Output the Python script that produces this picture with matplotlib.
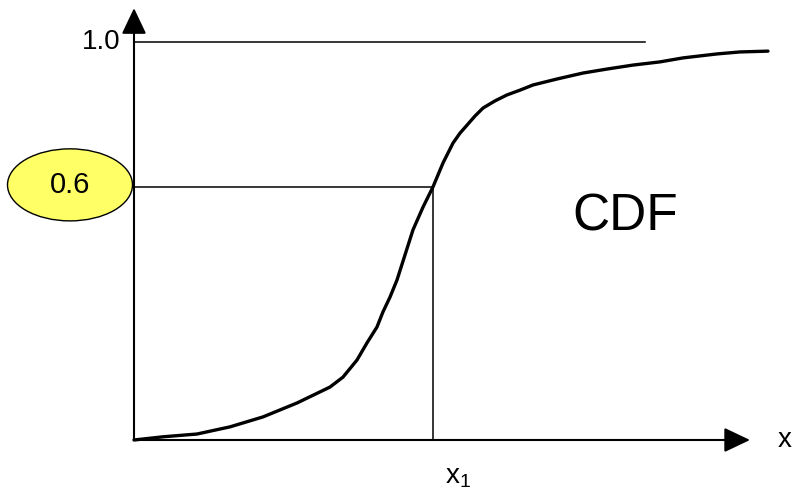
import matplotlib
matplotlib.use('Agg')
import matplotlib.pyplot as plt
from matplotlib.patches import Ellipse

plt.rcParams['font.family'] = ['Liberation Sans', 'DejaVu Sans']
plt.rcParams['mathtext.fontset'] = 'custom'
plt.rcParams['mathtext.rm'] = 'Liberation Sans'
plt.rcParams['mathtext.default'] = 'regular'

# curve (x in arbitrary units, y = cumulative probability)
cdf_x = [0.0, 0.29, 0.63, 0.96, 1.29, 1.63, 1.96, 2.09, 2.23, 2.33, 2.43, 2.49,
         2.56, 2.63, 2.79, 2.89, 2.99, 3.09, 3.19, 3.26, 3.33, 3.41, 3.49, 3.61,
         3.73, 3.86, 3.99, 4.23, 4.49, 4.73, 4.99, 5.26, 5.49, 5.83, 6.06, 6.34]
cdf_y = [0.0, 0.008, 0.015, 0.033, 0.058, 0.093, 0.133, 0.158, 0.201, 0.244, 0.284, 0.322,
         0.359, 0.402, 0.528, 0.585, 0.636, 0.696, 0.746, 0.771, 0.791, 0.814, 0.834, 0.852,
         0.867, 0.879, 0.892, 0.907, 0.922, 0.932, 0.942, 0.950, 0.960, 0.970, 0.975, 0.977]

x1 = 2.99          # where the curve crosses the marked level
p1 = 0.636         # drawn level of the "0.6" line
p1_label = '0.6'
top_level = 1.0
top_end = 5.11     # end of the 1.0 guide line

fig = plt.figure(figsize=(7.94, 4.94), dpi=100)
ax = fig.add_axes([0, 0, 1, 1])
ax.set_xlim(-1.34, 6.60)
ax.set_ylim(-0.1357, 1.1055)
ax.axis('off')

# axes with arrow heads
arrow = dict(arrowstyle='-|>,head_length=0.8,head_width=0.38', color='black',
             lw=1.5, mutation_scale=20, shrinkA=0, shrinkB=0)
ax.annotate('', xy=(0, 1.085), xytext=(0, 0), arrowprops=arrow)
ax.annotate('', xy=(6.16, 0), xytext=(0, 0), arrowprops=arrow)

# guide lines
ax.plot([0, top_end], [top_level, top_level], color='black', lw=1.1)
ax.plot([0, x1], [p1, p1], color='black', lw=1.1)
ax.plot([x1, x1], [0, p1], color='black', lw=1.1)

# the CDF curve
ax.plot(cdf_x, cdf_y, color='black', lw=2.4, solid_capstyle='round', solid_joinstyle='round')

# labels
ax.text(-0.14, top_level, '1.0', fontsize=20, ha='right', va='center')
ax.add_patch(Ellipse((-0.64, p1 + 0.005), 1.25, 0.181, facecolor='#FFFF66',
                     edgecolor='black', lw=1.0, zorder=3))
ax.text(-0.64, p1 + 0.005, p1_label, fontsize=21, ha='center', va='center', zorder=4)
ax.text(4.91, 0.56, 'CDF', fontsize=37, ha='center', va='center')
ax.text(6.51, 0.0, 'x', fontsize=20, ha='center', va='center')
ax.text(3.24, -0.093, r'x$_1$', fontsize=20, ha='center', va='center')

plt.savefig('out.png', dpi=100)
